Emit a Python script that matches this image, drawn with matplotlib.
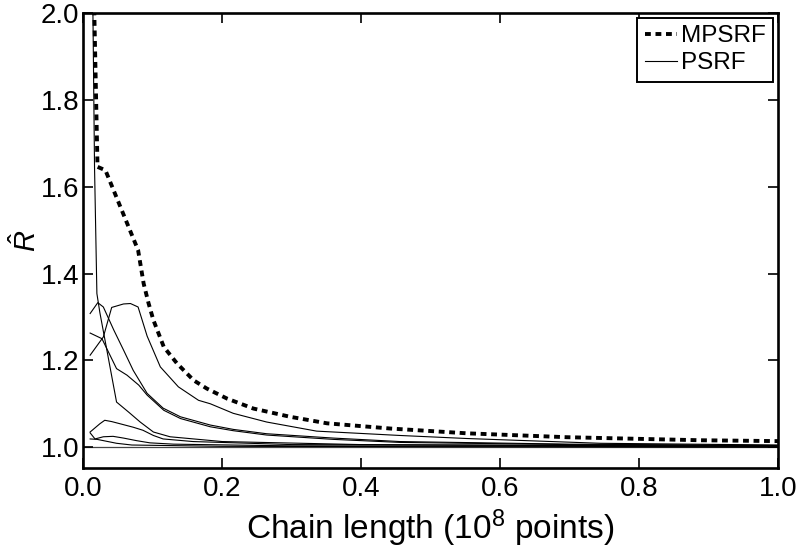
import numpy as np
import matplotlib
matplotlib.use('Agg')
import matplotlib.pyplot as plt

plt.rcParams['font.family'] = ['Liberation Sans', 'DejaVu Sans']
plt.rcParams['mathtext.fontset'] = 'custom'
plt.rcParams['mathtext.it'] = 'Liberation Sans:italic'
plt.rcParams['mathtext.rm'] = 'Liberation Sans'

# MPSRF (multivariate)
mpsrf_x = [0.010, 0.016, 0.0206, 0.032, 0.079, 0.087, 0.094, 0.101, 0.116, 0.135,
           0.159, 0.178, 0.207, 0.245, 0.298, 0.351, 0.442, 0.552, 0.696, 0.888, 1.0]
mpsrf_y = [2.45, 2.0, 1.646, 1.638, 1.454, 1.377, 1.332, 1.293, 1.231, 1.193,
           1.154, 1.135, 1.112, 1.089, 1.070, 1.055, 1.043, 1.032, 1.023, 1.016, 1.014]

# PSRF (une courbe par parametre)
psrf_a_x = [0.011, 0.014, 0.0163, 0.0197, 0.024, 0.048, 0.066, 0.082, 0.101, 0.125, 0.2, 0.4, 1.0]
psrf_a_y = [2.5, 2.0, 1.646, 1.354, 1.31, 1.104, 1.080, 1.058, 1.035, 1.024, 1.013, 1.006, 1.002]

psrf_b_x = [0.010, 0.021, 0.029, 0.044, 0.058, 0.072, 0.092, 0.115, 0.14, 0.183, 0.216, 0.264, 0.36, 0.456, 0.7, 1.0]
psrf_b_y = [1.308, 1.333, 1.323, 1.270, 1.224, 1.177, 1.124, 1.090, 1.070, 1.051, 1.041, 1.031, 1.021, 1.013, 1.007, 1.004]

psrf_c_x = [0.010, 0.027, 0.048, 0.063, 0.080, 0.092, 0.116, 0.14, 0.183, 0.216, 0.264, 0.36, 0.456, 0.7, 1.0]
psrf_c_y = [1.263, 1.250, 1.181, 1.166, 1.143, 1.120, 1.085, 1.066, 1.047, 1.038, 1.028, 1.018, 1.011, 1.006, 1.003]

psrf_d_x = [0.010, 0.029, 0.041, 0.058, 0.068, 0.079, 0.092, 0.111, 0.137, 0.166, 0.183, 0.216,
            0.264, 0.336, 0.456, 0.552, 0.744, 1.0]
psrf_d_y = [1.212, 1.254, 1.322, 1.330, 1.331, 1.323, 1.256, 1.185, 1.139, 1.108, 1.100, 1.078,
            1.058, 1.037, 1.027, 1.020, 1.009, 1.005]

psrf_e_x = [0.010, 0.024, 0.031, 0.041, 0.053, 0.072, 0.086, 0.101, 0.115, 0.158, 0.3, 1.0]
psrf_e_y = [1.035, 1.054, 1.062, 1.059, 1.054, 1.046, 1.039, 1.027, 1.019, 1.013, 1.006, 1.002]

psrf_f_x = [0.010, 0.017, 0.029, 0.043, 0.058, 0.077, 0.096, 0.13, 0.3, 1.0]
psrf_f_y = [1.033, 1.019, 1.024, 1.025, 1.021, 1.015, 1.010, 1.007, 1.003, 1.001]

psrf_g_x = [0.010, 0.020, 0.048, 0.070, 0.2, 1.0]
psrf_g_y = [1.019, 1.018, 1.009, 1.005, 1.002, 1.000]

psrf = [(psrf_a_x, psrf_a_y), (psrf_b_x, psrf_b_y), (psrf_c_x, psrf_c_y),
        (psrf_d_x, psrf_d_y), (psrf_e_x, psrf_e_y), (psrf_f_x, psrf_f_y),
        (psrf_g_x, psrf_g_y)]

fig = plt.figure(figsize=(8, 5.49), dpi=100)
ax = fig.add_axes([0.104, 0.1475, 0.8685, 0.8285])

ax.axhline(1.0, color='#444444', lw=0.9, zorder=1)
l_m, = ax.plot(mpsrf_x, mpsrf_y, color='black', lw=2.8, linestyle=(0, (1.5, 1.2)),
               dash_capstyle='butt', label='MPSRF', zorder=3)
for i, (px, py) in enumerate(psrf):
    l, = ax.plot(px, py, color='black', lw=0.8, zorder=2)
    if i == 0:
        l_p = l

ax.set_xlim(0, 1.0)
ax.set_ylim(0.952, 2.0)
ax.set_xticks(np.arange(0, 1.01, 0.2))
ax.set_yticks(np.arange(1.0, 2.01, 0.2))
ax.set_xticklabels(['%.1f' % v for v in np.arange(0, 1.01, 0.2)])
ax.set_yticklabels(['%.1f' % v for v in np.arange(1.0, 2.01, 0.2)])
ax.tick_params(direction='in', length=7, width=1.2, top=True, right=True, labelsize=20)
ax.tick_params(axis='x', pad=6)
ax.tick_params(axis='y', pad=3)
for s in ax.spines.values():
    s.set_linewidth(1.9)

ax.set_xlabel(r'Chain length (10$^{8}$ points)', fontsize=24, labelpad=4)
ax.set_ylabel(r'$\hat{R}$', fontsize=21, labelpad=-1)

leg = ax.legend([l_m, l_p], ['MPSRF', 'PSRF'], loc='upper right', fontsize=17.5,
                handlelength=1.35, handletextpad=0.15, borderaxespad=0.2,
                borderpad=0.3, labelspacing=0.2, fancybox=False, framealpha=1)
leg.get_frame().set_edgecolor('black')
leg.get_frame().set_linewidth(1.4)

plt.savefig('out.png', dpi=100)
